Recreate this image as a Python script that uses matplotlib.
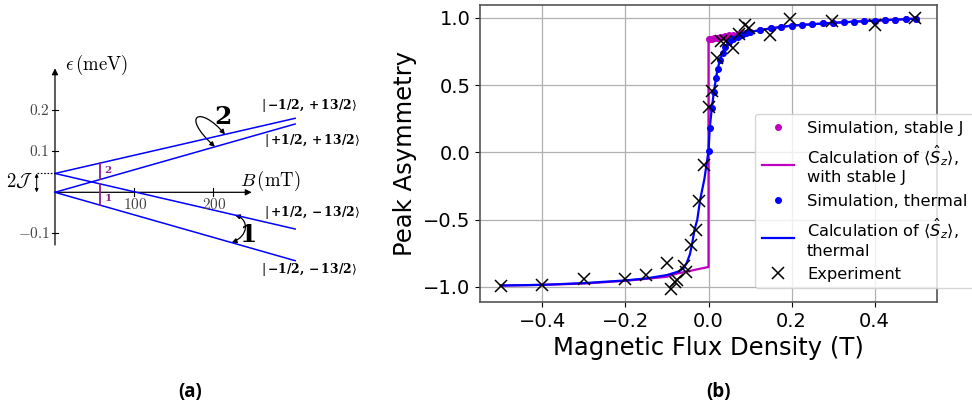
import numpy as np
import matplotlib
matplotlib.use("Agg")
import matplotlib.pyplot as plt
from matplotlib.patches import FancyArrowPatch
from matplotlib.path import Path

W, H, DPI = 972, 411, 100

# ---------------- panel (a): level diagram (B in mT, energy in meV) ----------------
two_j = 0.046
b_end = 304.0
level_start = [two_j, 0.0, two_j, 0.0]
level_end = [0.1805, 0.1666, -0.0895, -0.1668]
level_labels = [r"$|\,\mathbf{-1/2,+13/2}\rangle$", r"$|\,\mathbf{+1/2,+13/2}\rangle$",
                r"$|\,\mathbf{+1/2,-13/2}\rangle$", r"$|\,\mathbf{-1/2,-13/2}\rangle$"]
b_ticks = [100, 200]
b_tick_labels = ["$100$", "$200$"]
e_ticks = [-0.1, 0.1, 0.2]
e_tick_labels = ["$-0.1$", "$0.1$", "$0.2$"]
b_transition = 57.0

# ---------------- panel (b): asymmetry vs field (T) ----------------
sim_x = [0.0, 0.003, 0.008, 0.013, 0.018, 0.022, 0.028, 0.034, 0.04, 0.05, 0.06,
         0.07, 0.08, 0.09, 0.1, 0.125, 0.15, 0.175, 0.2, 0.225, 0.25, 0.275, 0.3,
         0.325, 0.35, 0.375, 0.4, 0.425, 0.45, 0.475, 0.5]
sim_stable = [0.84, 0.842, 0.845, 0.848, 0.851, 0.853, 0.857, 0.861, 0.864, 0.87, 0.876,
              0.881, 0.886, 0.89, 0.895, 0.91, 0.922, 0.932, 0.942, 0.947, 0.953, 0.958,
              0.963, 0.968, 0.972, 0.976, 0.979, 0.983, 0.987, 0.99, 0.994]
sim_thermal = [0.01, 0.18, 0.33, 0.45, 0.55, 0.62, 0.69, 0.74, 0.78, 0.82, 0.845,
               0.86, 0.875, 0.885, 0.895, 0.91, 0.922, 0.932, 0.942, 0.947, 0.953, 0.958,
               0.963, 0.968, 0.972, 0.976, 0.979, 0.983, 0.987, 0.99, 0.994]

calc_stable_x = [-0.5, -0.4, -0.3, -0.2, -0.1, -0.075, -0.05, -0.025, 0.0, 0.0,
                 0.025, 0.05, 0.075, 0.1, 0.15, 0.2, 0.3, 0.4, 0.5]
calc_stable = [-0.99, -0.985, -0.975, -0.955, -0.925, -0.9, -0.885, -0.868, -0.852, 0.84,
               0.856, 0.87, 0.883, 0.895, 0.922, 0.942, 0.963, 0.979, 0.994]

calc_x = [-0.5, -0.4, -0.3, -0.2, -0.15, -0.1, -0.08, -0.07, -0.06, -0.053, -0.045,
          -0.04, -0.034, -0.027, -0.02, -0.01, 0.0, 0.003, 0.008, 0.013, 0.018, 0.022,
          0.028, 0.034, 0.04, 0.05, 0.06, 0.07, 0.08, 0.1, 0.15, 0.2, 0.3, 0.4, 0.5]
calc_thermal = [-0.99, -0.985, -0.972, -0.952, -0.937, -0.912, -0.893, -0.883, -0.86, -0.826,
                -0.76, -0.69, -0.58, -0.5, -0.35, -0.2, 0.01, 0.18, 0.33, 0.45, 0.55, 0.62,
                0.69, 0.74, 0.78, 0.82, 0.845, 0.86, 0.875, 0.895, 0.922, 0.942, 0.963,
                0.979, 0.994]

exp_x = [-0.5, -0.4, -0.3, -0.2, -0.15, -0.1, -0.09, -0.08, -0.075, -0.06, -0.053,
         -0.041, -0.031, -0.022, -0.01, 0.0, 0.009, 0.02, 0.03, 0.041, 0.058, 0.074,
         0.089, 0.098, 0.148, 0.197, 0.297, 0.4, 0.497]
exp_y = [-0.995, -0.987, -0.938, -0.943, -0.908, -0.826, -1.012, -0.963, -0.95, -0.846,
         -0.893, -0.69, -0.578, -0.36, -0.097, 0.335, 0.458, 0.70, 0.83, 0.83, 0.774,
         0.883, 0.947, 0.922, 0.87, 0.992, 0.98, 0.947, 0.995]

x_ticks = [-0.4, -0.2, 0.0, 0.2, 0.4]
y_ticks = [-1.0, -0.5, 0.0, 0.5, 1.0]


def fig_box(left, top, right, bottom):
    return [left / W, 1 - bottom / H, (right - left) / W, (bottom - top) / H]


fig = plt.figure(figsize=(W / DPI, H / DPI), dpi=DPI)

# ======================= (a) =======================
axa = fig.add_axes(fig_box(0, 40, 380, 300))
axa.set_xlim(-69.6, 411.4)
axa.set_ylim(-0.2627, 0.3715)
axa.axis("off")

CM = dict(math_fontfamily="cm")
BOLD = dict(math_fontfamily="dejavuserif")
purple = "#8c1f8c"
gray = "#444444"


def level_at(i, b):
    return np.interp(b, [0.0, b_end], [level_start[i], level_end[i]])


# coordinate axes with arrow heads
axa.add_patch(FancyArrowPatch((0, -0.1285), (0, 0.3024), arrowstyle="-|>",
                              mutation_scale=9, lw=0.9, color="k", shrinkA=0, shrinkB=0))
axa.add_patch(FancyArrowPatch((0, 0), (249, 0), arrowstyle="-|>",
                              mutation_scale=9, lw=0.9, color="k", shrinkA=0, shrinkB=0))
for b, lab in zip(b_ticks, b_tick_labels):
    axa.plot([b, b], [-0.0095, 0.0095], color="k", lw=0.8)
    axa.text(b + 1, -0.029, lab, ha="center", va="center", fontsize=11,
             color=gray, **CM)
for e, lab in zip(e_ticks, e_tick_labels):
    axa.plot([-4, 4], [e, e], color="k", lw=0.8)
    axa.text(-6.5, e, lab, ha="right", va="center", fontsize=11, color=gray, **CM)

axa.text(12.7, 0.3105, r"$\epsilon\,(\mathrm{meV})$", ha="left", va="center",
         fontsize=13.5, **CM)
axa.text(234, 0.027, r"$B\,(\mathrm{mT})$", ha="left", va="center", fontsize=13.5, **CM)

# Zeeman levels
for i in range(4):
    axa.plot([0, b_end], [level_start[i], level_end[i]], color="#0000ff", lw=1.1)

label_pos = [(260.5, 0.211), (264.8, 0.126), (264.8, -0.0498), (260.5, -0.1895)]
for (bx, ey), lab in zip(label_pos, level_labels):
    axa.text(bx, ey, lab, ha="left", va="center", fontsize=8.9, **BOLD)

# 2J zero-field splitting
axa.plot([-23.2, 0], [two_j, two_j], color="k", lw=0.8, ls=(0, (1.5, 1.5)))
axa.add_patch(FancyArrowPatch((-23.2, 0.0), (-23.2, two_j), arrowstyle="<|-|>",
                              mutation_scale=5, lw=0.7, color="k", shrinkA=0, shrinkB=0))
axa.text(-27.5, two_j / 2 + 0.003, r"$2\mathcal{J}$", ha="right", va="center",
         fontsize=13.5, **CM)

# transitions 1 and 2 at low field
up_lo, up_hi = level_at(1, b_transition), level_at(0, b_transition)
dn_hi, dn_lo = level_at(2, b_transition), level_at(3, b_transition)
axa.plot([b_transition] * 2, [up_lo, up_hi], color=purple, lw=1.3)
axa.plot([b_transition] * 2, [dn_lo, dn_hi], color=purple, lw=1.3)
axa.text(b_transition + 5, 0.056, r"$\mathbf{2}$", color=purple, fontsize=7.5,
         ha="left", va="center", **BOLD)
axa.text(b_transition + 5, -0.013, r"$\mathbf{1}$", color=purple, fontsize=7.5,
         ha="left", va="center", **BOLD)

# curved arrows for crossings 2 and 1
pB, pA = 202.5, 215.2
loop2 = Path([(pB, level_at(1, pB)), (158.2, 0.1885), (183.5, 0.2129), (pA, level_at(0, pA))],
             [Path.MOVETO, Path.CURVE4, Path.CURVE4, Path.CURVE4])
axa.add_patch(FancyArrowPatch(path=loop2, arrowstyle="<|-|>", mutation_scale=7,
                              lw=0.9, color="k"))
pC, pD = 227.8, 223.7
loop1 = Path([(pC, level_at(2, pC)), (246.8, -0.0676), (244.3, -0.1066), (pD, level_at(3, pD))],
             [Path.MOVETO, Path.CURVE4, Path.CURVE4, Path.CURVE4])
axa.add_patch(FancyArrowPatch(path=loop1, arrowstyle="<|-|>", mutation_scale=7,
                              lw=0.9, color="k"))
axa.text(212, 0.183, r"$\mathbf{2}$", fontsize=18, ha="center", va="center", **BOLD)
axa.text(243.5, -0.104, r"$\mathbf{1}$", fontsize=18, ha="center", va="center", **BOLD)

# ======================= (b) =======================
axb = fig.add_axes(fig_box(480, 5, 937, 302))
axb.grid(True, color="#b0b0b0", lw=0.9)
axb.set_axisbelow(True)
axb.plot(sim_x, sim_stable, ".", color="m", ms=8, label="Simulation, stable J")
axb.plot(calc_stable_x, calc_stable, "-", color="m", lw=1.6,
         label="Calculation of $\\langle\\hat{S}_z\\rangle$,\nwith stable J")
axb.plot(sim_x, sim_thermal, ".", color="b", ms=8, label="Simulation, thermal")
axb.plot(calc_x, calc_thermal, "-", color="b", lw=1.6,
         label="Calculation of $\\langle\\hat{S}_z\\rangle$,\nthermal")
axb.plot(exp_x, exp_y, "x", color="k", ms=9, mew=1.1, label="Experiment")

axb.set_xticks(x_ticks)
axb.set_yticks(y_ticks)
axb.tick_params(labelsize=14)
axb.set_xlabel("Magnetic Flux Density (T)", fontsize=17.5)
axb.set_ylabel("Peak Asymmetry", fontsize=17.5)
for s in axb.spines.values():
    s.set_color("#555555")
    s.set_linewidth(1.2)

axb.legend(loc="upper left", bbox_to_anchor=(755 / W, 1 - 114 / H),
           bbox_transform=fig.transFigure, fontsize=11.7, borderaxespad=0)

# panel captions
fig.text(190 / W, 1 - 392 / H, "(a)", ha="center", va="center", fontsize=13.5,
         fontweight="bold", family="Open Sans")
fig.text(718 / W, 1 - 392 / H, "(b)", ha="center", va="center", fontsize=13.5,
         fontweight="bold", family="Open Sans")

fig.savefig("out.png", dpi=DPI)
